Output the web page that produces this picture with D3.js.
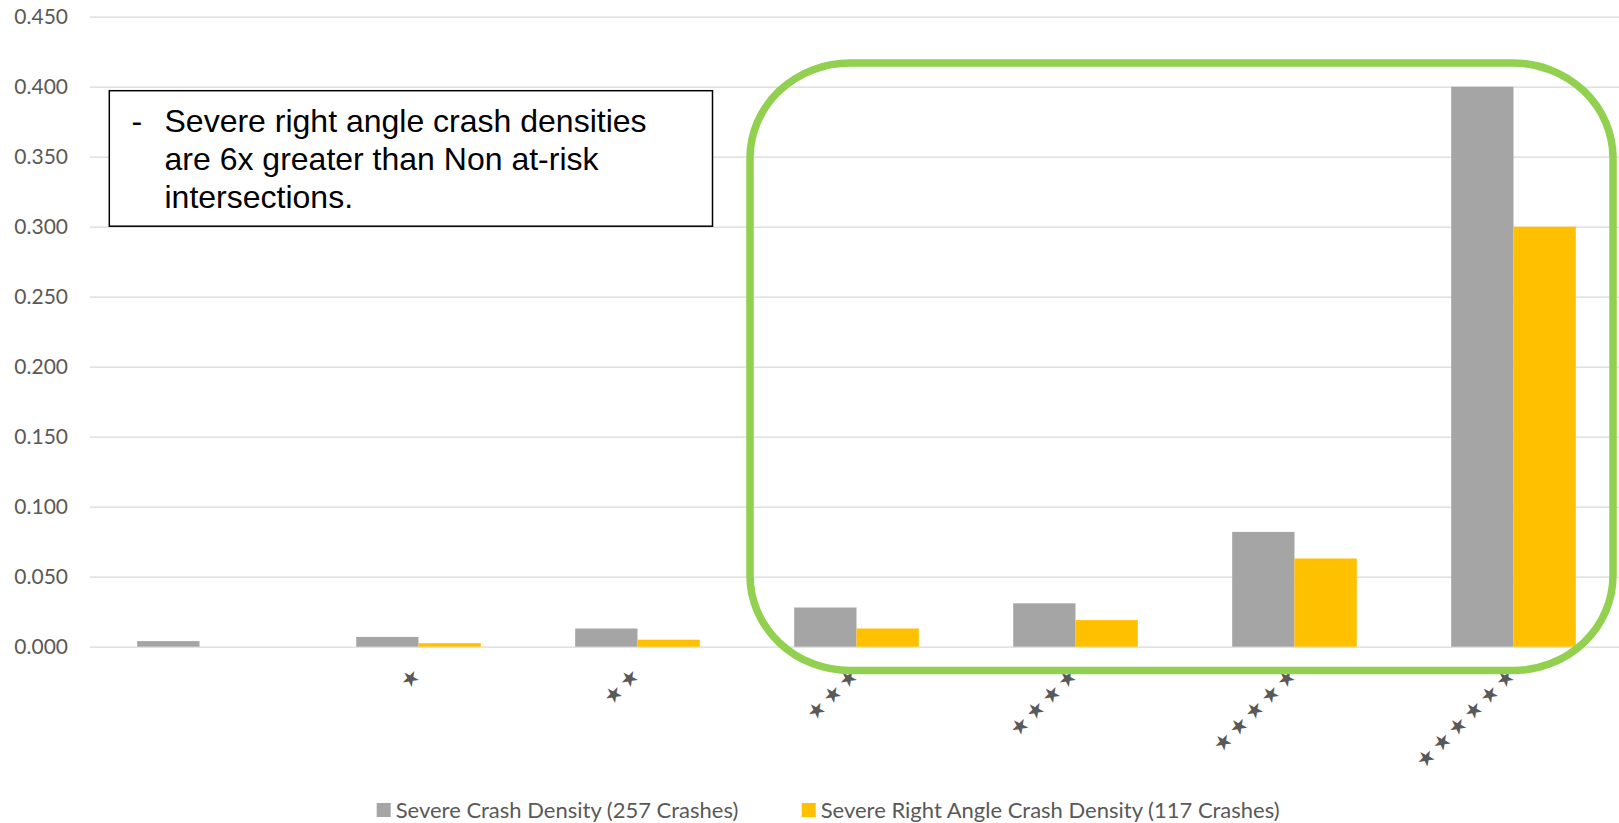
<!DOCTYPE html>
<html>
<head>
<meta charset="utf-8">
<script src="https://cdn.jsdelivr.net/npm/d3@7"></script>
<style>
  html, body { margin: 0; padding: 0; background: #fff; }
  svg { display: block; }
</style>
</head>
<body>
<svg id="chart" width="1619" height="823"></svg>
<script>
// Intersection risk tiers (stars) and severe crash densities per tier
const categories = ["", "★", "★★", "★★★", "★★★★", "★★★★★", "★★★★★★"];
const severeCrashDensity = [0.004, 0.007, 0.013, 0.028, 0.031, 0.082, 0.400];
const rightAngleCrashDensity = [0.000, 0.0025, 0.005, 0.013, 0.019, 0.063, 0.300];
const seriesNames = ["Severe Crash Density (257 Crashes)", "Severe Right Angle Crash Density (117 Crashes)"];
const seriesColors = ["#a5a5a5", "#ffc000"];
const yTicks = [0, 0.05, 0.10, 0.15, 0.20, 0.25, 0.30, 0.35, 0.40, 0.45];
const noteLines = ["Severe right angle crash densities", "are 6x greater than Non at-risk", "intersections."];

const svg = d3.select("#chart");
const W = 1619;
const plot = { left: 90, right: 1623, top: 16.7, bottom: 646.7 };
const axisFont = "Lato, 'Open Sans', sans-serif";
const textGrey = "#595959";

const x = d3.scaleBand()
  .domain(d3.range(categories.length))
  .range([plot.left, plot.right])
  .paddingInner(0.431)
  .paddingOuter(0.2155);
const xSub = d3.scaleBand().domain([0, 1]).range([0, x.bandwidth()]);
const y = d3.scaleLinear().domain([0, 0.45]).range([plot.bottom, plot.top]);

// Horizontal gridlines with value labels
const yAxis = svg.append("g")
  .attr("transform", `translate(${plot.left},0)`)
  .call(d3.axisLeft(y).tickValues(yTicks).tickFormat(d3.format(".3f"))
    .tickSize(-(W - plot.left)).tickPadding(22));
yAxis.select(".domain").remove();
yAxis.selectAll(".tick line").attr("stroke", "#d9d9d9").attr("stroke-width", 1.3);
yAxis.selectAll(".tick text")
  .attr("fill", textGrey)
  .style("font-family", axisFont)
  .style("font-size", "21px");

// Grouped bars
const series = [severeCrashDensity, rightAngleCrashDensity];
series.forEach((vals, s) => {
  svg.append("g").selectAll("rect")
    .data(vals)
    .join("rect")
    .attr("x", (d, i) => x(i) + xSub(s))
    .attr("y", d => y(d))
    .attr("width", xSub.bandwidth())
    .attr("height", d => y(0) - y(d))
    .attr("fill", seriesColors[s]);
});

// Star tier labels, rotated
const xAxis = svg.append("g")
  .attr("transform", `translate(0,${plot.bottom})`)
  .call(d3.axisBottom(x).tickFormat(i => categories[i]).tickSize(0));
xAxis.select(".domain").remove();
xAxis.selectAll(".tick text")
  .attr("x", 0).attr("y", 0).attr("dy", null)
  .attr("text-anchor", "end")
  .attr("dominant-baseline", "central")
  .attr("transform", "translate(1,22.6) rotate(-45)")
  .attr("fill", textGrey)
  .style("font-family", "'DejaVu Sans', sans-serif")
  .style("font-size", "21px")
  .style("letter-spacing", "3.6px");

// Callout box
const note = svg.append("g");
note.append("rect")
  .attr("x", 109.3).attr("y", 90.7)
  .attr("width", 603.2).attr("height", 135.5)
  .attr("fill", "#fff").attr("stroke", "#000").attr("stroke-width", 1.5);
note.append("text")
  .attr("x", 131.5).attr("y", 131.5)
  .style("font-family", "'Liberation Sans', Arial, sans-serif")
  .style("font-size", "32px")
  .attr("fill", "#000")
  .text("-");
note.selectAll("text.line")
  .data(noteLines)
  .join("text")
  .attr("class", "line")
  .attr("x", 164.5)
  .attr("y", (d, i) => 131.5 + i * 38.2)
  .style("font-family", "'Liberation Sans', Arial, sans-serif")
  .style("font-size", "32px")
  .attr("fill", "#000")
  .text(d => d);

// Highlight around the at-risk tiers
svg.append("rect")
  .attr("x", 750).attr("y", 63)
  .attr("width", 863).attr("height", 607.5)
  .attr("rx", 100).attr("ry", 95)
  .attr("fill", "none")
  .attr("stroke", "#92d050")
  .attr("stroke-width", 7.5);

// Legend
const legendX = [376.7, 801.7];
const legend = svg.append("g").selectAll("g")
  .data(seriesNames)
  .join("g")
  .attr("transform", (d, i) => `translate(${legendX[i]},803)`);
legend.append("rect")
  .attr("width", 14).attr("height", 14)
  .attr("fill", (d, i) => seriesColors[i]);
legend.append("text")
  .attr("x", 19).attr("y", 14.5)
  .attr("fill", textGrey)
  .style("font-family", axisFont)
  .style("font-size", "22px")
  .text(d => d);
</script>
</body>
</html>
